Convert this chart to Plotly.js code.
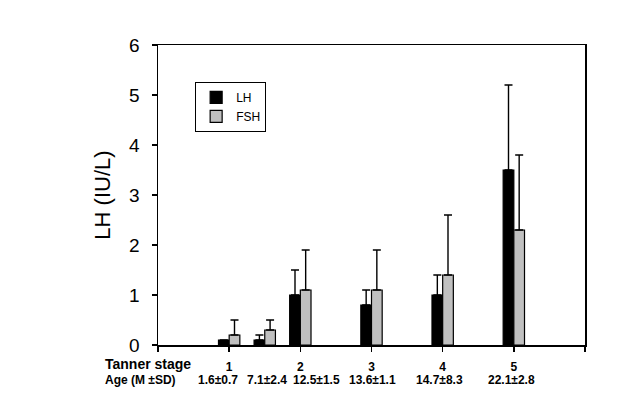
<!DOCTYPE html>
<html>
<head>
<meta charset="utf-8">
<script src="https://cdn.plot.ly/plotly-3.0.1.min.js"></script>
<style>html,body{margin:0;padding:0;background:#fff;}#chart{width:626px;height:395px;}</style>
</head>
<body>
<div id="chart"></div>
<script>
// Data
const groupPos = [1, 1.5, 2, 3, 4, 5];
const lhMean = [0.1, 0.1, 1.0, 0.8, 1.0, 3.5];
const lhSD = [null, 0.1, 0.5, 0.3, 0.4, 1.7];
const fshMean = [0.2, 0.3, 1.1, 1.1, 1.4, 2.3];
const fshSD = [0.3, 0.2, 0.8, 0.8, 1.2, 1.5];
const tannerTicks = [0, 1, 2, 3, 4, 5, 6];
const tannerLabels = ['', '1', '2', '3', '4', '5', ''];
const ageLabels = ['1.6\u00b10.7', '7.1\u00b12.4', '12.5\u00b11.5', '13.6\u00b11.1', '14.7\u00b18.3', '22.1\u00b12.8'];
const ageLabelX = [0.84, 1.53, 2.23, 3.02, 3.95, 4.97];

const FONT = 'Arial, "Liberation Sans", sans-serif';
const zeros = groupPos.map(() => 0);

function err(arr) {
  return {type: 'data', symmetric: false, array: arr, arrayminus: zeros,
          color: '#000', thickness: 1.4, width: 4};
}

const traces = [
  {type: 'bar', name: 'LH', x: groupPos, y: lhMean, width: 0.15, offset: -0.15,
   marker: {color: '#000000', line: {color: '#000', width: 1.2}}, error_y: err(lhSD)},
  {type: 'bar', name: 'FSH', x: groupPos, y: fshMean, width: 0.15, offset: 0,
   marker: {color: '#c0c0c0', line: {color: '#000', width: 1.2}}, error_y: err(fshSD)}
];

const annotations = ageLabels.map((t, i) => ({
  text: t, x: ageLabelX[i], xref: 'x', y: -0.117, yref: 'paper',
  xanchor: 'center', yanchor: 'middle', showarrow: false,
  font: {family: FONT, size: 12, color: '#000', weight: 'bold'}
}));
annotations.push({text: '<b>Tanner stage</b>', x: -0.129, xref: 'paper', y: -0.063, yref: 'paper',
  xanchor: 'left', yanchor: 'middle', showarrow: false, font: {family: FONT, size: 14, color: '#000'}});
annotations.push({text: '<b>Age (M \u00b1SD)</b>', x: -0.129, xref: 'paper', y: -0.117, yref: 'paper',
  xanchor: 'left', yanchor: 'middle', showarrow: false, font: {family: FONT, size: 12, color: '#000'}});

const layout = {
  width: 626, height: 395,
  margin: {l: 158, r: 41, t: 45, b: 50, pad: 0},
  paper_bgcolor: '#fff', plot_bgcolor: '#fff',
  font: {family: FONT, color: '#000'},
  barmode: 'overlay',
  showlegend: true,
  legend: {x: 0.087, y: 0.877, xanchor: 'left', yanchor: 'top',
           bordercolor: '#000', borderwidth: 1, bgcolor: '#fff',
           font: {family: FONT, size: 12, color: '#000'}, tracegroupgap: 0},
  xaxis: {range: [0, 6], tickvals: tannerTicks, ticktext: tannerLabels,
          ticks: 'outside', ticklen: 5, tickwidth: 1.5, tickcolor: '#000',
          showline: true, linecolor: '#000', linewidth: 1.5, mirror: true,
          showgrid: false, zeroline: false, ticklabelstandoff: 5,
          tickfont: {family: FONT, size: 12, color: '#000', weight: 'bold'}},
  yaxis: {range: [0, 6], dtick: 1, ticks: 'outside', ticklen: 5, tickwidth: 1.5, tickcolor: '#000',
          showline: true, linecolor: '#000', linewidth: 1.5, mirror: true,
          showgrid: false, zeroline: false, ticklabelstandoff: 8,
          tickfont: {family: FONT, size: 19, color: '#000'},
          title: {text: 'LH (IU/L)', font: {family: FONT, size: 22, color: '#000'}, standoff: 12}},
  annotations: annotations
};

Plotly.newPlot('chart', traces, layout, {displayModeBar: false, staticPlot: true});
</script>
</body>
</html>
